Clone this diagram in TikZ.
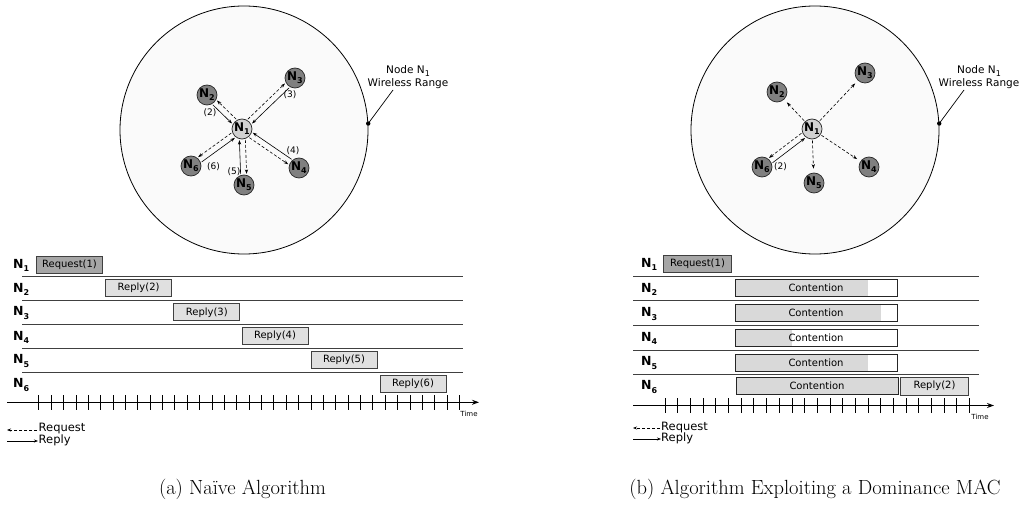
\documentclass[tikz,border=0pt]{standalone}
\usepackage{fontspec}
\newfontfamily\dv{DejaVu Sans}
\usetikzlibrary{arrows.meta,calc}
\newcommand\sbs[1]{\raisebox{-0.45ex}{\fontsize{8}{8}\selectfont #1}}
\newcommand\duo[4]{%
  \draw[reqarr] ($(#1)!3pt!#3:(#2)$) -- ($(#2)!3pt!#4:(#1)$);
  \draw[reparr] ($(#2)!3pt!#3:(#1)$) -- ($(#1)!3pt!#4:(#2)$);}
\begin{document}
\begin{tikzpicture}[x=1pt,y=-1pt,
  rangec/.style={circle, draw=black, line width=0.8pt, fill=black!2, minimum size=248pt, inner sep=0pt},
  nd/.style={circle, draw=black!85, line width=0.7pt, fill=black!50, minimum size=20pt, inner sep=0pt, font=\dv\bfseries\fontsize{12}{12}\selectfont},
  ctr/.style={nd, fill=black!18},
  tip/.style={-{Stealth[length=4.5pt,width=3.2pt]}},
  reqarr/.style={tip, densely dashed, line width=0.6pt, shorten <=11pt, shorten >=11pt},
  reparr/.style={tip, line width=0.6pt, shorten <=11pt, shorten >=11pt},
  reqc/.style={tip, densely dashed, line width=0.6pt, shorten <=1pt, shorten >=4pt},
  numlbl/.style={font=\dv\fontsize{9}{9}\selectfont, inner sep=0pt},
  rlbl/.style={font=\dv\fontsize{10.5}{12.5}\selectfont, align=center, inner sep=0pt},
  rowlbl/.style={font=\dv\bfseries\fontsize{12.5}{12.5}\selectfont, anchor=west, inner sep=0pt},
  rowln/.style={draw=black!75, line width=0.8pt},
  rbox/.style={draw=black!75, line width=0.8pt, fill=black!12, minimum height=17pt, minimum width=66pt, inner sep=0pt, font=\dv\fontsize{10}{10}\selectfont},
  qbox/.style={rbox, fill=black!35},
  cbox/.style={draw=black!85, line width=0.8pt, fill=white, minimum height=17pt, minimum width=162pt, inner sep=0pt, font=\dv\fontsize{10}{10}\selectfont,
     path picture={\fill[black!15] (path picture bounding box.north west) rectangle ([xshift=#1]path picture bounding box.south west);}},
  axisln/.style={line width=1.1pt, -{Stealth[length=7pt,width=5pt]}},
  tickln/.style={line width=0.6pt},
  timelbl/.style={font=\dv\fontsize{7}{7}\selectfont, inner sep=0pt},
  leglbl/.style={font=\dv\fontsize{11.5}{11.5}\selectfont, anchor=west, inner sep=0pt},
  legarr/.style={-{Stealth[length=4pt,width=3pt]}, line width=0.7pt},
  caplbl/.style={font=\fontsize{20.5}{20.5}\selectfont, inner sep=0pt}
]
\useasboundingbox (0,0) rectangle (1025,505);

% ===================== Panel (a) =====================
\node[rangec] (ra) at (244,130) {};
\coordinate (dotA) at (ra.3);
\fill (dotA) circle (2.2pt);
\node[rlbl] (wa) at (408,77) {Node N\sbs{1}\\Wireless Range};
\coordinate (tipA) at (393,90);
\draw[line width=0.7pt] (dotA) -- (tipA);

\node[ctr] (a1) at (242,129) {N\sbs{1}};
\node[nd] (a2) at (207,95) {N\sbs{2}};
\node[nd] (a3) at (295,78) {N\sbs{3}};
\node[nd] (a4) at (299,168) {N\sbs{4}};
\node[nd] (a5) at (244,185) {N\sbs{5}};
\node[nd] (a6) at (191,166) {N\sbs{6}};

\duo{a1}{a2}{-90}{90}
\duo{a1}{a3}{90}{-90}
\duo{a1}{a4}{-90}{90}
\duo{a1}{a5}{90}{-90}
\duo{a1}{a6}{-90}{90}

\node[numlbl] (la2) at (210,112.5) {(2)};
\node[numlbl] (la3) at (290,95) {(3)};
\node[numlbl] (la4) at (293,151) {(4)};
\node[numlbl] (la5) at (234,172) {(5)};
\node[numlbl] (la6) at (213.5,167) {(6)};

% timeline (a)
\node[rowlbl] (ta1) at (13,265) {N\sbs{1}};
\node[rowlbl] (ta2) at (13,289) {N\sbs{2}};
\node[rowlbl] (ta3) at (13,313) {N\sbs{3}};
\node[rowlbl] (ta4) at (13,337) {N\sbs{4}};
\node[rowlbl] (ta5) at (13,361) {N\sbs{5}};
\node[rowlbl] (ta6) at (13,385) {N\sbs{6}};
\foreach \y in {276.6,300.6,324.8,348.8,372.5} \draw[rowln] (22,\y) -- (463,\y);

\node[qbox] (qa1) at (69.5,264.5) {Request(1)};
\node[rbox] (pa2) at (138.6,288) {Reply(2)};
\node[rbox] (pa3) at (206.8,312.3) {Reply(3)};
\node[rbox] (pa4) at (275,336) {Reply(4)};
\node[rbox] (pa5) at (344,360) {Reply(5)};
\node[rbox] (pa6) at (413,383.8) {Reply(6)};

\coordinate (axA0) at (7,402.3);
\coordinate (axA1) at (479,402.3);
\draw[axisln] (axA0) -- (axA1);
\foreach \i in {0,...,34} \draw[tickln] ({38.7+12.37*\i},395) -- ({38.7+12.37*\i},410);
\node[timelbl] (tma) at (469,414) {Time};

\coordinate (lqa0) at (37,430);
\coordinate (lqa1) at (7,430);
\draw[legarr, densely dashed] (lqa0) -- (lqa1);
\node[leglbl] (lga1) at (38.5,429) {Request};
\coordinate (lpa0) at (7,441);
\coordinate (lpa1) at (38,441);
\draw[legarr] (lpa0) -- (lpa1);
\node[leglbl] (lga2) at (38.5,440.5) {Reply};

\node[caplbl] (capa) at (242.5,489.5) {(a) Naïve Algorithm};

% ===================== Panel (b) =====================
\node[rangec] (rb) at (815,130) {};
\coordinate (dotB) at (rb.3);
\fill (dotB) circle (2.2pt);
\node[rlbl] (wb) at (979,77) {Node N\sbs{1}\\Wireless Range};
\coordinate (tipB) at (964,90);
\draw[line width=0.7pt] (dotB) -- (tipB);

\node[ctr] (b1) at (812,129) {N\sbs{1}};
\node[nd] (b2) at (777,92) {N\sbs{2}};
\node[nd] (b3) at (865,73) {N\sbs{3}};
\node[nd] (b4) at (869,167) {N\sbs{4}};
\node[nd] (b5) at (814,183) {N\sbs{5}};
\node[nd] (b6) at (762,167) {N\sbs{6}};

\draw[reqc] (b1) -- (b2);
\draw[reqc] (b1) -- (b3);
\draw[reqc] (b1) -- (b4);
\draw[reqc] (b1) -- (b5);
\duo{b1}{b6}{-90}{90}
\node[numlbl] (lb2) at (780.5,167) {(2)};

% timeline (b)
\node[rowlbl] (tb1) at (641,264) {N\sbs{1}};
\node[rowlbl] (tb2) at (641,289) {N\sbs{2}};
\node[rowlbl] (tb3) at (641,314) {N\sbs{3}};
\node[rowlbl] (tb4) at (641,338.5) {N\sbs{4}};
\node[rowlbl] (tb5) at (641,363) {N\sbs{5}};
\node[rowlbl] (tb6) at (641,387) {N\sbs{6}};
\foreach \y in {276.7,300.7,325.7,350.3,374.3} \draw[rowln] (633,\y) -- (979,\y);

\node[qbox, minimum width=68pt] (qb1) at (697.5,264) {Request(1)};
\node[cbox=133pt] (cb2) at (816,288) {Contention};
\node[cbox=146pt] (cb3) at (816,312.7) {Contention};
\node[cbox=57pt] (cb4) at (816,337.8) {Contention};
\node[cbox=133pt] (cb5) at (816,362.8) {Contention};
\node[cbox=170pt] (cb6) at (817,386.2) {Contention};
\node[rbox, minimum width=67.6pt, minimum height=17.7pt] (pb6) at (934.5,386.2) {Reply(2)};

\coordinate (axB0) at (633,405.5);
\coordinate (axB1) at (994,405.5);
\draw[axisln] (axB0) -- (axB1);
\foreach \i in {0,...,24} \draw[tickln] ({665+12.68*\i},398) -- ({665+12.68*\i},413);
\node[timelbl] (tmb) at (980,417) {Time};

\coordinate (lqb0) at (660,428);
\coordinate (lqb1) at (633,428);
\draw[legarr, densely dashed] (lqb0) -- (lqb1);
\node[leglbl] (lgb1) at (661,427.5) {Request};
\coordinate (lpb0) at (633,439);
\coordinate (lpb1) at (661,439);
\draw[legarr] (lpb0) -- (lpb1);
\node[leglbl] (lgb2) at (661,438.5) {Reply};

\node[caplbl] (capb) at (815,489.5) {(b) Algorithm Exploiting a Dominance MAC};
\end{tikzpicture}
\end{document}
